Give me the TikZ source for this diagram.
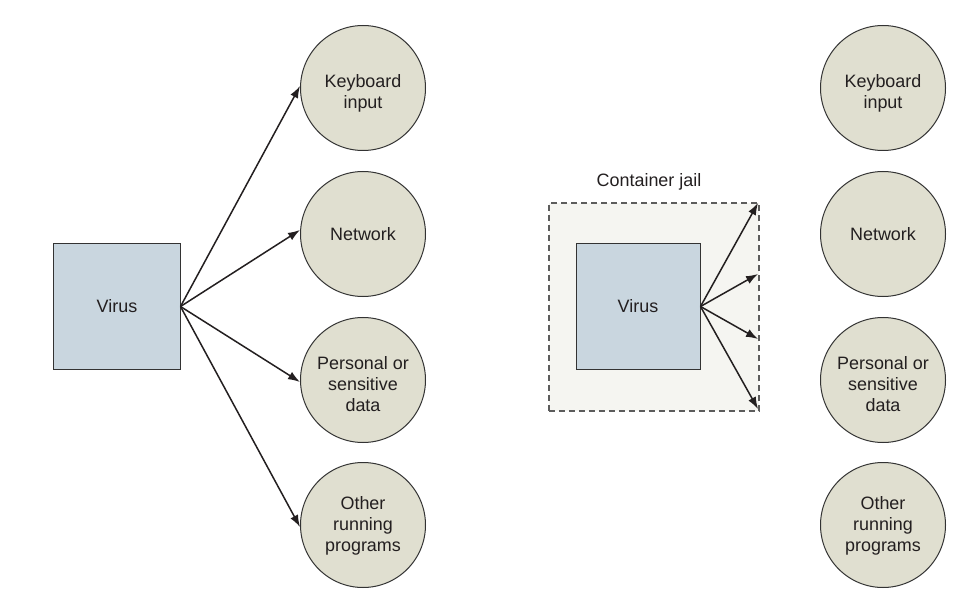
\documentclass[tikz,border=0pt]{standalone}
\usepackage{fontspec}
\setmainfont{Liberation Sans}
\usetikzlibrary{arrows.meta}
\definecolor{boxfill}{HTML}{C9D6DF}
\definecolor{circfill}{HTML}{E0DFD0}
\definecolor{jailfill}{HTML}{F5F5F1}
\definecolor{txt}{HTML}{231F20}
\definecolor{edge}{HTML}{333333}
\newcommand{\ml}[2][-10.5bp]{\raisebox{#1}[0pt][0pt]{\begin{tabular}{@{}c@{}}#2\end{tabular}}}
\begin{document}
\begin{tikzpicture}[x=1bp,y=-1bp,font=\fontsize{18}{21}\selectfont,text=txt,
  target/.style={circle,draw=edge,fill=circfill,line width=1bp,minimum size=125bp,inner sep=0pt,align=center},
  virusbox/.style={rectangle,draw=edge,fill=boxfill,line width=1bp,minimum height=125bp,inner sep=0pt},
  arr/.style={line width=1.5bp,draw=txt,-{Latex[length=12bp,width=8.5bp]}}]
\useasboundingbox (0,0) rectangle (969,609);
% left side
\node[virusbox,minimum width=126bp] (v1) at (117,306.5) {Virus};
\node[target] (k1) at (363,88) {\ml{Keyboard\\input}};
\node[target] (n1) at (363,234) {Network};
\node[target] (p1) at (363,380) {\ml{Personal or\\sensitive\\data}};
\node[target] (o1) at (363,525) {\ml[-6bp]{Other\\running\\programs}};
\draw[arr] (v1.east) -- ([yshift=2bp]k1.west);
\draw[arr] (v1.east) -- ([yshift=4bp]n1.west);
\draw[arr] (v1.east) -- ([yshift=-2bp]p1.west);
\draw[arr] (v1.east) -- ([yshift=-2bp]o1.west);
% right side
\node[rectangle,draw=edge!80,fill=jailfill,line width=1.2bp,dash pattern=on 6bp off 4bp,minimum width=210bp,minimum height=208bp,inner sep=0pt] (jail) at (654,307) {};
\node[anchor=south] (jl) at (649,194) {Container jail};
\node[virusbox,minimum width=124bp] (v2) at (638,306.5) {Virus};
\coordinate (j1) at (758,203);
\coordinate (j2) at (758,274);
\coordinate (j3) at (758,339);
\coordinate (j4) at (758,409);
\draw[arr] (v2.east) -- (j1);
\draw[arr] (v2.east) -- (j2);
\draw[arr] (v2.east) -- (j3);
\draw[arr] (v2.east) -- (j4);
\node[target] (k2) at (883,88) {\ml{Keyboard\\input}};
\node[target] (n2) at (883,234) {Network};
\node[target] (p2) at (883,380) {\ml{Personal or\\sensitive\\data}};
\node[target] (o2) at (883,525) {\ml[-6bp]{Other\\running\\programs}};
\end{tikzpicture}
\end{document}
